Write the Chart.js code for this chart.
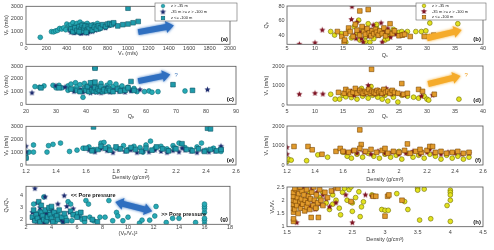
<!DOCTYPE html>
<html>
<head>
<meta charset="utf-8">
<script src="https://cdn.jsdelivr.net/npm/chart.js@4.4.1/dist/chart.umd.min.js"></script>
<style>
  html, body { margin: 0; padding: 0; background: #fff; }
  #wrap { position: relative; width: 494px; height: 250px; overflow: hidden; }
  #wrap canvas { position: absolute; }
</style>
</head>
<body>
<div id="wrap"></div>
<script>
// ---- data ([x, y] per sample) ----
// (a) Vp vs Vs
var aCircle = [[140,550],[250,1000],[270,980],[290,1050],[310,1100],[330,1250],[350,1200],[370,1300],[390,1150],[400,1600],[420,1450],[430,1350],[440,1550],[450,1250],[460,1700],[470,1400],[480,1100],[490,1500],[500,1650],[510,1300],[520,1200],[530,1750],[540,1450],[550,1000],[560,1600],[570,1350],[580,1150],[590,1500],[600,1650],[610,1250],[620,1050],[640,1400],[660,1550],[680,1300],[700,1650],[720,1200],[750,1450],[780,1350],[820,1500],[480,950],[530,900],[590,1000],[640,1100]];
var aStar = [[430,1100],[440,950],[450,1050],[460,1200],[470,900],[480,1150],[490,1000],[500,1250],[510,1100],[520,950],[530,1300],[540,1050],[550,1150],[560,900],[570,1200],[580,1000],[590,1100],[600,1300],[610,950],[620,1150],[630,1050],[640,1250],[650,1000],[660,1200],[680,1100],[700,1350],[720,1250],[750,1400],[780,1300],[820,1500],[860,1600],[540,850],[600,850]];
var aSquare = [[440,1200],[460,1000],[480,1300],[500,1100],[520,1400],[540,1200],[550,1500],[560,1050],[570,1300],[580,1450],[600,1150],[610,1400],[620,1250],[640,1500],[650,1100],[670,1350],[690,1200],[710,1450],[730,1300],[750,1550],[780,1400],[800,1600],[820,1650],[840,1550],[860,1700],[900,1450],[950,1550],[1000,1600],[1050,1700],[1100,1800],[1000,2850],[520,1000],[590,950]];

// (b) Qp vs Qs
var bCircle = [[12.8,45],[13.5,40],[14.7,42],[15.5,30],[16,47],[16.5,36],[17,52],[17.5,42],[18,33],[18.5,48],[19,38],[19.5,56],[19.8,30],[20,44],[20.5,35],[21,50],[21.5,40],[22,46],[22.5,33],[23,38],[23.5,43],[24,48],[25,44],[25.5,45],[26.5,45],[28,45],[29,45],[29.8,46],[30,38],[30.5,57],[35.5,56],[17.8,61],[21,55],[23,35],[19,31]];
var bStar = [[7.2,27],[10,29],[11.3,47],[16.6,80],[16.5,62],[17,40],[17.5,58],[18,44],[18.3,35],[18.8,50],[19.2,42],[19.6,38],[20,47],[20.4,54],[20.8,43],[21.3,39],[21.8,57],[22.2,45],[22.7,41],[23,49],[23.5,37],[24,44],[24.5,41],[25.5,40],[26,42],[30.5,38],[17.3,35],[18.6,30],[22,30]];
var bSquare = [[14,45],[14.8,38],[15.2,30],[15.3,33],[15.5,42],[16,50],[16.3,45],[16.8,38],[17.2,55],[17.5,47],[18,74],[18,40],[18.4,52],[18.7,45],[19,41],[19.3,49],[19.5,76],[19.7,43],[20,39],[20.2,46],[20.5,42],[20.8,48],[21,44],[21.3,40],[21.6,46],[22,42],[22.3,50],[22.6,39],[23,45],[23.4,56],[23.8,42],[24.2,46],[25,39],[25.6,40],[26,41],[27,38],[29.5,38],[31.2,40]];

// (c) Vp vs Qp
var cCircle = [[23,1400],[24.5,1350],[26,1450],[29,1500],[30,1300],[31,1500],[32,1300],[34,1450],[35,1600],[36,1200],[36.5,1700],[37,1400],[38,1550],[38.5,1100],[39,550],[39.5,1650],[40,1300],[41,1450],[42,1700],[42.5,1200],[43,1550],[44,1350],[45,1650],[46,1250],[47,1500],[48,1700],[49,1400],[50,1600],[51,1300],[52,1450],[53,1200],[54,1350],[55,1100],[56,1250],[57,1000],[59.5,1000],[61,1050],[62,950],[64,1000],[73,1050],[34,1100],[45,1050]];
var cStar = [[22,900],[30,1450],[33,1350],[36,1000],[38,1150],[39,950],[40,1050],[41,1200],[41.5,900],[42,1000],[43,1100],[43.5,950],[44,1050],[44.5,1150],[45,900],[46,1000],[47,1100],[48,950],[49,1050],[50,1150],[51,1000],[52,1100],[53,950],[55,1050],[58,1150],[80.5,1150],[47,1300],[42,1300]];
var cSquare = [[25,1300],[31,1300],[35,1200],[37,1100],[38,1000],[43,2950],[43,2850],[39.5,1250],[40,1100],[40.5,1400],[41,1000],[41.5,1700],[42,1150],[42.5,1050],[43,1750],[43,1300],[43.5,1000],[44,1200],[44.5,1100],[45,1400],[45.5,1000],[46,1150],[47,1050],[47.5,1250],[48,1100],[49,1000],[55,1800],[50.5,1200],[51.5,1050],[53,1100],[56,1100],[69,1550],[75.5,1100],[54,1300]];

// (d) Vs vs Qs
var dCircle = [[12.8,550],[13.6,300],[14.4,300],[15,500],[15.5,420],[16,650],[16.5,380],[17,550],[17.5,300],[18,700],[18.5,450],[19,600],[19.5,350],[20,950],[20.3,500],[20.8,700],[21.2,400],[21.7,600],[22,300],[22.5,500],[23,200],[23.5,650],[24,400],[24.8,150],[25.5,500],[26.5,450],[27.6,400],[28.5,350],[29.5,450],[30,300],[30.3,250],[35.7,300],[18.3,850]];
var dStar = [[7.2,550],[10,600],[11.4,560],[15.5,600],[16.5,700],[17,500],[17.8,750],[18.3,600],[18.8,550],[19.3,700],[19.8,600],[20.2,650],[20.7,550],[21.2,750],[21.7,600],[22.2,550],[22.7,850],[23.2,650],[23.7,550],[24.5,600],[25.5,550],[26,500],[29,450],[31,500],[19.5,1000]];
var dSquare = [[14.2,650],[15.2,600],[15.5,800],[16,700],[16.3,550],[16.8,650],[17.2,850],[17.5,600],[18,750],[18.3,650],[18.6,600],[19,700],[19.3,650],[19.6,800],[19.9,600],[20.1,1830],[20.2,700],[20.5,650],[20.8,600],[21.1,750],[21.4,650],[21.7,700],[22,600],[22.3,800],[22.6,650],[23,700],[23.4,600],[23.8,750],[24.2,650],[24.8,600],[25.5,1100],[25.8,550],[26.5,600],[28.5,800],[29.2,700],[31.3,550]];

// (e) Vp vs density
var eCircle = [[1.2,550],[1.2,900],[1.22,1000],[1.25,1000],[1.25,1550],[1.34,1000],[1.35,1500],[1.38,1600],[1.43,1700],[1.49,1050],[1.54,1150],[1.58,1300],[1.62,1400],[1.65,1200],[1.7,1700],[1.72,1750],[1.75,1400],[1.8,1300],[1.85,1500],[1.88,1200],[1.92,1450],[1.96,1350],[2.0,1550],[2.03,1850],[2.06,1300],[2.1,1450],[2.14,1250],[2.18,1500],[2.22,1700],[2.26,1350],[2.3,1200],[2.34,1400],[2.37,1700],[2.4,1150],[2.45,1300],[2.5,1050],[2.5,1200],[1.98,1000],[2.15,1100]];
var eStar = [[1.2,1450],[1.2,1000],[1.62,1150],[1.66,1000],[1.7,1250],[1.74,1100],[1.78,950],[1.82,1200],[1.86,1050],[1.9,1150],[1.94,950],[1.98,1100],[2.02,1000],[2.06,1150],[2.1,1050],[2.14,950],[2.18,1100],[2.22,1000],[2.26,1150],[2.3,1050],[2.34,950],[2.38,1100],[2.42,1000],[2.46,1050],[2.5,1450],[2.5,1300],[2.24,1300]];
var eSquare = [[1.2,550],[1.6,1300],[1.65,2950],[1.64,1100],[1.68,1200],[1.7,1450],[1.73,1300],[1.76,1150],[1.8,1400],[1.83,1250],[1.87,1100],[1.9,1350],[1.93,1200],[1.97,1050],[2.0,1300],[2.04,1150],[2.07,1400],[2.11,1250],[2.15,1100],[2.19,1300],[2.41,2850],[2.43,2800],[2.24,1650],[2.27,1200],[2.31,1100],[2.35,1250],[2.39,1050],[2.43,1200],[2.47,1100],[2.5,1200],[2.2,1250]];

// (f) Vs vs density
var fCircle = [[1.2,180],[1.21,300],[1.23,250],[1.34,220],[1.42,520],[1.49,400],[1.6,650],[1.63,450],[1.66,350],[1.7,550],[1.74,400],[1.78,600],[1.82,450],[1.86,350],[1.9,550],[1.94,400],[1.98,500],[2.02,300],[2.06,600],[2.1,400],[2.14,500],[2.18,350],[2.22,550],[2.26,450],[2.3,300],[2.34,500],[2.38,350],[2.42,450],[2.46,300],[2.5,400],[2.0,700]];
var fStar = [[1.2,900],[1.2,550],[1.62,650],[1.66,700],[1.7,600],[1.75,650],[1.8,550],[1.85,700],[1.9,600],[1.95,650],[2.0,550],[2.05,600],[2.1,700],[2.15,550],[2.2,650],[2.22,800],[2.25,600],[2.3,550],[2.35,650],[2.4,600],[2.45,550],[2.5,600],[1.72,800]];
var fSquare = [[1.25,950],[1.35,950],[1.38,780],[1.45,550],[1.55,700],[1.58,850],[1.6,700],[1.64,650],[1.68,750],[1.72,1800],[1.73,1050],[1.72,850],[1.76,700],[1.8,800],[1.84,650],[1.88,750],[1.92,600],[1.96,700],[2.0,650],[2.04,750],[2.06,1080],[2.08,600],[2.12,700],[2.16,650],[2.2,750],[2.22,950],[2.24,950],[2.26,650],[2.3,700],[2.34,600],[2.38,650],[2.42,700],[2.46,600],[2.5,650],[1.9,850],[2.15,800]];

// (g) Qp/Qs vs (Vp/Vs)^2
var gCircle = [[2.6,3.3],[2.7,2.2],[2.8,2.5],[3.0,1.9],[3.1,2.7],[3.3,2.1],[3.4,3.9],[3.5,2.4],[3.6,1.8],[3.8,2.6],[3.9,2.0],[4.0,2.9],[4.2,2.3],[4.3,1.8],[4.5,2.5],[4.7,2.1],[4.9,1.8],[5.1,2.2],[5.3,3.5],[5.5,3.3],[5.6,1.9],[5.8,2.4],[6.0,2.5],[6.2,2.3],[6.4,2.0],[6.6,1.8],[6.7,3.6],[6.9,3.3],[7.0,2.2],[7.3,1.9],[7.8,2.2],[8.2,2.2],[8.5,3.6],[8.8,1.9],[9.1,2.6],[9.2,2.3],[9.6,1.9],[10.0,2.2],[10.9,1.7],[11.1,1.95],[11.7,1.95],[12.2,3.1],[12.1,2.3],[13.0,1.75],[13.5,2.1],[14.0,2.1],[15.3,1.75],[16,1.6],[16,1.9],[16,2.1],[16,2.6],[16,2.9],[16,3.1],[16,3.3]];
var gStar = [[2.5,2.6],[2.6,2.0],[2.7,4.6],[2.8,1.8],[3.0,2.3],[3.1,3.0],[3.2,2.1],[3.4,1.7],[3.5,3.9],[3.6,2.5],[3.8,2.2],[4.0,1.9],[4.1,2.7],[4.3,2.4],[4.5,3.3],[4.7,2.0],[4.9,1.8],[5.0,4.0],[5.2,3.1],[5.4,2.6],[5.7,2.9],[6.1,2.2],[2.9,3.4]];
var gSquare = [[2.5,2.2],[2.6,2.8],[2.7,1.9],[2.8,2.4],[2.9,2.1],[3.0,3.5],[3.1,1.8],[3.2,2.6],[3.3,2.3],[3.4,2.0],[3.5,2.8],[3.6,1.9],[3.7,2.2],[3.8,3.0],[3.9,2.4],[4.0,2.1],[4.1,1.8],[4.2,2.6],[4.4,2.3],[4.5,2.0],[4.6,2.8],[4.8,2.2],[5.0,2.5],[5.2,1.9],[5.5,2.7],[5.7,2.4],[6.0,2.2],[6.3,2.6],[6.6,2.1],[7.2,2.0],[7.6,1.8],[3.2,3.2],[4.0,3.1]];

// (h) Vp/Vs vs density
var hCircle = [[1.95,1.7],[2.0,2.1],[2.05,2.3],[2.1,1.9],[2.15,1.65],[2.2,2.2],[2.25,2.0],[2.3,1.7],[2.32,1.45],[2.35,2.3],[2.38,2.45],[2.42,2.0],[2.45,2.4],[2.48,2.5],[2.5,1.9],[2.5,1.58],[2.55,2.1],[2.6,2.32],[2.62,1.38],[2.64,1.75],[2.67,1.94],[2.8,2.2],[2.95,1.65],[3.0,1.62],[3.05,1.62],[3.18,2.25],[3.3,1.95],[3.35,1.65],[3.5,2.45],[3.5,2.38],[3.53,1.25],[3.6,2.42],[3.7,1.3],[3.95,1.8],[4.0,2.38],[4.0,2.3],[4.0,2.2],[4.0,2.0],[4.0,1.2],[1.85,2.3],[2.2,1.85]];
var hStar = [[1.62,2.3],[1.65,1.15],[1.68,2.0],[1.7,1.8],[1.72,2.4],[1.75,1.9],[1.78,1.6],[1.8,2.2],[1.83,2.05],[1.86,1.75],[1.88,2.45],[1.9,1.95],[1.93,1.65],[1.96,2.3],[2.0,1.85],[2.05,2.2],[2.1,2.05],[2.15,1.75],[2.2,2.35],[2.28,2.5],[2.4,2.2],[2.5,1.15],[2.7,2.2],[2.8,2.15],[1.75,2.5],[2.25,1.9]];
var hSquare = [[1.6,1.2],[1.6,1.3],[1.6,1.55],[1.6,1.7],[1.6,1.85],[1.6,2.0],[1.6,2.15],[1.6,2.3],[1.62,1.65],[1.63,1.95],[1.64,2.4],[1.65,1.8],[1.66,2.1],[1.67,1.5],[1.68,2.25],[1.7,1.95],[1.71,1.7],[1.72,2.05],[1.73,2.35],[1.74,1.85],[1.76,2.2],[1.77,1.6],[1.78,2.0],[1.8,1.75],[1.8,2.4],[1.82,1.9],[1.83,2.15],[1.85,1.65],[1.86,2.05],[1.87,1.35],[1.88,2.3],[1.9,1.8],[1.91,2.5],[1.92,2.0],[1.94,1.7],[1.95,2.2],[1.97,1.9],[1.98,1.35],[2.0,2.4],[2.02,2.0],[2.05,1.8],[2.08,2.3],[2.12,2.1],[2.18,2.35],[2.25,2.5],[2.28,2.45],[2.48,1.95],[2.82,2.15],[2.86,2.15],[3.0,1.4],[3.04,2.15],[3.06,2.2],[3.26,2.0],[1.7,2.5],[1.62,2.45]];

// tick labels
var vsTicks = [0,200,400,600,800,1000,1200,1400,1600,1800,2000];
var qsTicks = [5,10,15,20,25,30,35,40];
var qpTicks = [20,30,40,50,60,70,80,90];
var rhoTicks = [1.2,1.4,1.6,1.8,2,2.2,2.4,2.6];
var ratioTicks = [2,4,6,8,10,12,14,16,18];
var rho2Ticks = [1.5,2,2.5,3,3.5,4,4.5];
var vp3Ticks = [0,1000,2000,3000];
var vs2Ticks = [0,1000,2000];
var qpyTicks = [40,60,80];
var qqTicks = [2,3,4];
var vpvsTicks = [1,1.5,2,2.5];

var legendLabels = ["z > -35 m", "-35 m >= z > -100 m", "z <= -100 m"];

// ---- styling ----
var FONT = "'Liberation Sans', 'DejaVu Sans', sans-serif";
var BLUE = { circle: "#27aab5", circleEdge: "#0d6d78", star: "#1b2a6e", square: "#1f9bab", squareEdge: "#0b5866" };
var YELLOW = { circle: "#e2e21e", circleEdge: "#6e6c00", star: "#7e1222", square: "#e19b2c", squareEdge: "#7a4700" };

function starImage(color, r) {
  var s = Math.ceil(r * 2 + 2);
  var c = document.createElement("canvas");
  c.width = s; c.height = s;
  var g = c.getContext("2d");
  g.beginPath();
  for (var i = 0; i < 10; i++) {
    var rr = i % 2 ? r * 0.45 : r;
    var a = -Math.PI / 2 + i * Math.PI / 5;
    g.lineTo(s / 2 + rr * Math.cos(a), s / 2 + rr * Math.sin(a));
  }
  g.closePath();
  g.fillStyle = color;
  g.fill();
  return c;
}
BLUE.starImg = starImage(BLUE.star, 3.2);
YELLOW.starImg = starImage(YELLOW.star, 3.2);

function fmt(v) { return String(Math.round(v * 100) / 100); }

function fatArrow(ctx, x1, y1, x2, y2, color, dbl) {
  var L = Math.hypot(x2 - x1, y2 - y1), body = 6, head = 12, hl = 8;
  ctx.save();
  ctx.translate(x1, y1);
  ctx.rotate(Math.atan2(y2 - y1, x2 - x1));
  ctx.beginPath();
  if (dbl) {
    ctx.moveTo(0, 0); ctx.lineTo(hl, -head / 2); ctx.lineTo(hl, -body / 2);
    ctx.lineTo(L - hl, -body / 2); ctx.lineTo(L - hl, -head / 2); ctx.lineTo(L, 0);
    ctx.lineTo(L - hl, head / 2); ctx.lineTo(L - hl, body / 2); ctx.lineTo(hl, body / 2);
    ctx.lineTo(hl, head / 2);
  } else {
    ctx.moveTo(0, -body / 2); ctx.lineTo(L - hl, -body / 2); ctx.lineTo(L - hl, -head / 2);
    ctx.lineTo(L, 0); ctx.lineTo(L - hl, head / 2); ctx.lineTo(L - hl, body / 2); ctx.lineTo(0, body / 2);
  }
  ctx.closePath();
  ctx.shadowColor = color;
  ctx.shadowBlur = 3;
  ctx.fillStyle = color;
  ctx.fill();
  ctx.restore();
}

// frame, panel tag, legend, arrows and notes
var deco = {
  id: "deco",
  afterDatasetsDraw: function (chart, args, o) {
    var ctx = chart.ctx, ca = chart.chartArea, xs = chart.scales.x, ys = chart.scales.y;
    ctx.save();
    (o.arrows || []).forEach(function (a) {
      fatArrow(ctx, xs.getPixelForValue(a.from[0]), ys.getPixelForValue(a.from[1]),
        xs.getPixelForValue(a.to[0]), ys.getPixelForValue(a.to[1]), a.color, a.dbl);
    });
    (o.notes || []).forEach(function (n) {
      ctx.font = (n.bold ? "bold " : "") + n.size + "px " + FONT;
      ctx.fillStyle = n.color;
      ctx.textAlign = "left";
      ctx.textBaseline = "middle";
      ctx.fillText(n.text, xs.getPixelForValue(n.at[0]), ys.getPixelForValue(n.at[1]));
    });
    ctx.strokeStyle = "#555";
    ctx.lineWidth = 0.8;
    ctx.strokeRect(ca.left, ca.top, ca.right - ca.left, ca.bottom - ca.top);
    ctx.font = "bold 6px " + FONT;
    ctx.fillStyle = "#111";
    ctx.textAlign = "right";
    ctx.textBaseline = "middle";
    ctx.fillText(o.tag, ca.right - 2, ca.bottom - 4.5);
    if (o.legend) {
      var L = o.legend, pal = o.pal;
      ctx.fillStyle = "#fff";
      ctx.fillRect(L[0], L[1], L[2] - L[0], L[3] - L[1]);
      ctx.strokeStyle = "#666";
      ctx.lineWidth = 0.6;
      ctx.strokeRect(L[0], L[1], L[2] - L[0], L[3] - L[1]);
      var rowH = (L[3] - L[1]) / 3;
      ctx.font = "4px " + FONT;
      ctx.textAlign = "left";
      for (var i = 0; i < 3; i++) {
        var cy = L[1] + rowH * (i + 0.5), mx = L[0] + 8;
        if (i === 0) {
          ctx.beginPath(); ctx.arc(mx, cy, 1.8, 0, Math.PI * 2);
          ctx.fillStyle = pal.circle; ctx.fill();
          ctx.strokeStyle = pal.circleEdge; ctx.lineWidth = 0.5; ctx.stroke();
        } else if (i === 1) {
          ctx.drawImage(pal.starImg, mx - pal.starImg.width / 2, cy - pal.starImg.height / 2);
        } else {
          ctx.fillStyle = pal.square; ctx.fillRect(mx - 1.8, cy - 1.8, 3.6, 3.6);
          ctx.strokeStyle = pal.squareEdge; ctx.lineWidth = 0.5; ctx.strokeRect(mx - 1.8, cy - 1.8, 3.6, 3.6);
        }
        ctx.fillStyle = "#222";
        ctx.fillText(legendLabels[i], L[0] + 16, cy);
      }
    }
    ctx.restore();
  }
};

var BL = "#2f6fc0", OR = "#f5ab2a";
// box: canvas [left, top, width]; plot: [l, t, r, b]; xt/xT: centre y of tick labels / title; yT: centre x of y title
var panels = [
  { tag: "(a)", box: [0, 0, 244], plot: [26, 5.5, 230, 44.3], xt: 48.7, xT: 53.7, yT: 6, yTr: 23,
    sets: [aCircle, aStar, aSquare], pal: BLUE, xr: [0, 2000], xk: vsTicks, yr: [0, 3000], yk: vp3Ticks,
    xTitle: "Vₛ (m/s)", yTitle: "Vₚ (m/s)", legend: [155, 3, 237, 21],
    arrows: [{ from: [1100, 960], to: [1450, 1480], color: BL }] },
  { tag: "(b)", box: [244, 0, 250], plot: [287, 6, 483, 44.3], xt: 48.7, xT: 55, yT: 266, yTr: 284.5,
    sets: [bCircle, bStar, bSquare], pal: YELLOW, xr: [5, 40], xk: qsTicks, yr: [27, 81], yk: qpyTicks,
    xTitle: "Qₛ", yTitle: "Qₚ", legend: [172, 3, 242, 20],
    arrows: [{ from: [30, 35.5], to: [36.2, 47.2], color: OR }] },
  { tag: "(c)", box: [0, 60, 244], plot: [26, 65.7, 236, 104.3], xt: 111, xT: 116.7, yT: 6, yTr: 23,
    sets: [cCircle, cStar, cSquare], pal: BLUE, xr: [20, 90], xk: qpTicks, yr: [0, 3000], yk: vp3Ticks,
    xTitle: "Qₚ", yTitle: "Vₚ (m/s)",
    arrows: [{ from: [57.4, 1834], to: [68.1, 2354], color: BL }],
    notes: [{ text: "?", at: [69.5, 2300], size: 6, color: "#4a7fc0" }] },
  { tag: "(d)", box: [244, 60, 250], plot: [287, 66, 483, 105], xt: 111, xT: 116.7, yT: 266, yTr: 284.5,
    sets: [dCircle, dStar, dSquare], pal: YELLOW, xr: [5, 40], xk: qsTicks, yr: [0, 2000], yk: vs2Ticks,
    xTitle: "Qₛ", yTitle: "Vₛ (m/s)",
    arrows: [{ from: [30.2, 1077], to: [36, 1487], color: OR }],
    notes: [{ text: "?", at: [36.7, 1540], size: 6, color: "#f0a020" }] },
  { tag: "(e)", box: [0, 120, 244], plot: [26, 126, 236, 165], xt: 171.7, xT: 177.7, yT: 6, yTr: 23,
    sets: [eCircle, eStar, eSquare], pal: BLUE, xr: [1.2, 2.6], xk: rhoTicks, yr: [0, 3000], yk: vp3Ticks,
    xTitle: "Density (g/cm³)", yTitle: "Vₚ (m/s)" },
  { tag: "(f)", box: [244, 120, 250], plot: [287, 126, 483, 165], xt: 171.7, xT: 179, yT: 266, yTr: 284.5,
    sets: [fCircle, fStar, fSquare], pal: YELLOW, xr: [1.2, 2.6], xk: rhoTicks, yr: [0, 2000], yk: vs2Ticks,
    xTitle: "Density (g/cm³)", yTitle: "Vₛ (m/s)" },
  { tag: "(g)", box: [0, 180, 244], plot: [26, 185, 230, 224.3], xt: 227.8, xT: 233.3, yT: 6.5, yTr: 23,
    sets: [gCircle, gStar, gSquare], pal: BLUE, xr: [2, 18], xk: ratioTicks, yr: [1.6, 4.8], yk: qqTicks,
    xTitle: "(Vₚ/Vₛ)²", yTitle: "Qₚ/Qₛ",
    arrows: [{ from: [9, 3.48], to: [11.9, 2.7], color: BL, dbl: true }],
    notes: [{ text: "<< Pore pressure", at: [5.5, 4.0], size: 5.5, bold: true, color: "#111" },
            { text: ">> Pore pressure", at: [12.6, 2.45], size: 5.5, bold: true, color: "#111" }] },
  { tag: "(h)", box: [244, 180, 250], plot: [287, 187, 483, 226.7], xt: 232.3, xT: 239.3, yT: 272, yTr: 284.5,
    sets: [hCircle, hStar, hSquare], pal: YELLOW, xr: [1.5, 4.5], xk: rho2Ticks, yr: [1, 2.5], yk: vpvsTicks,
    xTitle: "Density (g/cm³)", yTitle: "Vₚ/Vₛ" }
];

var wrap = document.getElementById("wrap");
var TICK = 5.5, TITLE = 5.5, LH = 1.2;

panels.forEach(function (p) {
  var left = p.box[0], top = p.box[1], w = p.box[2];
  var h = Math.ceil(p.xT + TITLE * LH / 2 + 1 - top);
  var c = document.createElement("canvas");
  c.width = w; c.height = h;
  c.style.left = left + "px"; c.style.top = top + "px";
  wrap.appendChild(c);

  var pal = p.pal;
  var xh = top + h - p.plot[3], yw = p.plot[0] - left;
  var xy = function (arr) { return arr.map(function (d) { return { x: d[0], y: d[1] }; }); };

  new Chart(c, {
    type: "scatter",
    data: {
      datasets: [
        { label: legendLabels[0], data: xy(p.sets[0]), pointStyle: "circle", pointRadius: 2.4,
          backgroundColor: pal.circle, borderColor: pal.circleEdge, borderWidth: 0.6, order: 3 },
        { label: legendLabels[1], data: xy(p.sets[1]), pointStyle: pal.starImg, pointRadius: 3,
          backgroundColor: pal.star, borderColor: pal.star, order: 2 },
        { label: legendLabels[2], data: xy(p.sets[2]), pointStyle: "rect", pointRadius: 3.3,
          backgroundColor: pal.square, borderColor: pal.squareEdge, borderWidth: 0.6, order: 1 }
      ]
    },
    options: {
      responsive: false,
      animation: false,
      events: [],
      layout: { padding: { left: 0, bottom: 0, top: p.plot[1] - top, right: left + w - p.plot[2] } },
      plugins: {
        legend: { display: false },
        tooltip: { enabled: false },
        deco: { tag: p.tag, legend: p.legend && [p.legend[0], p.legend[1], p.legend[2], p.legend[3]], pal: pal,
                arrows: p.arrows, notes: p.notes }
      },
      scales: {
        x: {
          type: "linear", min: p.xr[0], max: p.xr[1],
          afterBuildTicks: function (s) { s.ticks = p.xk.map(function (v) { return { value: v }; }); },
          afterFit: function (s) { s.height = xh; },
          grid: { display: false, drawTicks: false },
          border: { display: false },
          ticks: { autoSkip: false, maxRotation: 0, padding: p.xt - p.plot[3] - TICK * LH / 2,
                   font: { size: TICK, family: FONT }, color: "#444", callback: fmt },
          title: { display: true, text: p.xTitle, color: "#333", font: { size: TITLE, family: FONT },
                   padding: { top: 0, bottom: 1 } }
        },
        y: {
          type: "linear", min: p.yr[0], max: p.yr[1],
          afterBuildTicks: function (s) { s.ticks = p.yk.map(function (v) { return { value: v }; }); },
          afterFit: function (s) { s.width = yw; },
          grid: { display: false, drawTicks: false },
          border: { display: false },
          ticks: { autoSkip: false, padding: p.plot[0] - p.yTr,
                   font: { size: TICK, family: FONT }, color: "#444", callback: fmt },
          title: { display: true, text: p.yTitle, color: "#333", font: { size: TITLE, family: FONT },
                   padding: { top: p.yT - left - TITLE * LH / 2, bottom: 0 } }
        }
      }
    },
    plugins: [deco]
  });
});
</script>
</body>
</html>
